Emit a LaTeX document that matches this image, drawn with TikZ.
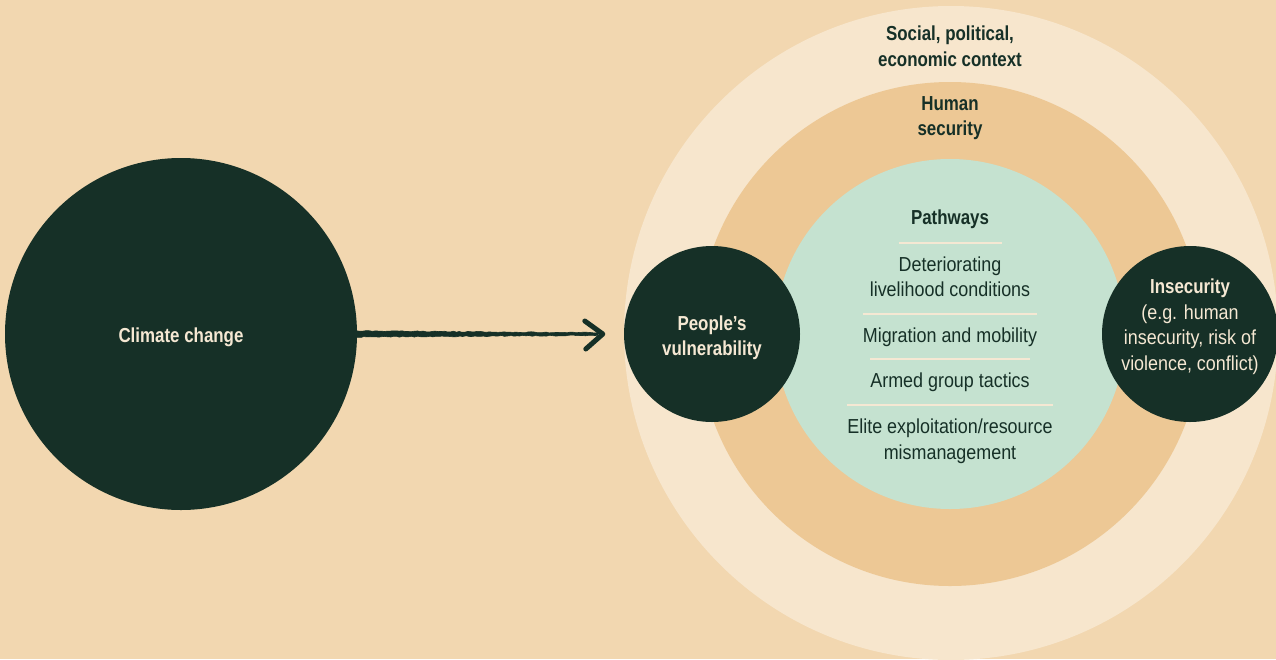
\documentclass[tikz,border=0pt]{standalone}
\usepackage{fontspec}
\setmainfont{Liberation Sans}[FakeStretch=0.885]
\newfontfamily\boldfam{Liberation Sans}[FakeStretch=0.835]
\usetikzlibrary{decorations.pathmorphing}
\definecolor{bg}{HTML}{F2D7B0}
\definecolor{outer}{HTML}{F7E6CD}
\definecolor{middle}{HTML}{EDC895}
\definecolor{inner}{HTML}{C5E2D0}
\definecolor{dark}{HTML}{163027}
\definecolor{cream}{HTML}{F5E8D3}
\begin{document}
\begin{tikzpicture}[x=1pt,y=-1pt,
  disc/.style={circle, inner sep=0pt, draw=none},
  txt/.style={anchor=base, inner sep=0pt, text=dark, font=\fontsize{20.25}{26}\selectfont},
  btxt/.style={txt, font=\boldfam\bfseries\fontsize{20.25}{26}\selectfont},
  ctxt/.style={txt, text=cream},
  cbtxt/.style={btxt, text=cream},
  sepline/.style={draw=cream, line width=2pt},
  shaft/.style={fill=dark, draw=dark, line width=0.6pt, line join=round},
  head/.style={draw=dark, line width=5pt, line cap=round, line join=round},
]
\useasboundingbox (0,0) rectangle (1276,659);
\clip (0,0) rectangle (1276,659);
\fill[bg] (0,0) rectangle (1276,659);

% rings
\node[disc, fill=outer, minimum size=654pt] (context) at (951,333) {};
\node[disc, fill=middle, minimum size=504pt] (human) at (950,334) {};
\node[disc, fill=inner, minimum size=350pt] (pathways) at (950,334) {};

% dark circles
\node[disc, fill=dark, minimum size=176pt] (vuln) at (712,334) {};
\node[disc, fill=dark, minimum size=176pt] (insec) at (1190,334) {};
\node[disc, fill=dark, minimum size=352pt] (climate) at (181,334) {};

% arrow (tapered, rough shaft)
\coordinate (tip) at ([xshift=-21pt]vuln.west);
\pgfmathsetseed{7}
\path[shaft, decorate, decoration={random steps, segment length=3pt, amplitude=0.5pt}]
  ([shift={(-3,-3)}]climate.east) -- ([shift={(-5,-1.3)}]tip)
  -- ([shift={(-5,1.3)}]tip) -- ([shift={(-3,3)}]climate.east) -- cycle;
\draw[head] ([shift={(-18,-13)}]tip) -- (tip) -- ([shift={(-17,15)}]tip);

% texts
\node[cbtxt] (cc) at (181,342) {Climate change};

\node[btxt] (ctx1) at (950,40.5) {Social, political,};
\node[btxt] (ctx2) at (950,66) {economic context};
\node[btxt] (hum1) at (950,110) {Human};
\node[btxt] (hum2) at (950,135.5) {security};

\node[btxt] (path) at (950,224) {Pathways};
\node[txt] (det1) at (950,271) {Deteriorating};
\node[txt] (det2) at (950,296.5) {livelihood conditions};
\node[txt] (mig) at (950,342) {Migration and mobility};
\node[txt] (arm) at (950,387.5) {Armed group tactics};
\node[txt] (eli1) at (950,433) {Elite exploitation/resource};
\node[txt] (eli2) at (950,459) {mismanagement};

\foreach \n in {det1,mig,arm,eli1}{
  \draw[sepline] ([yshift=28.5pt]\n.base west) -- ([yshift=28.5pt]\n.base east);
}

\node[cbtxt] (pv1) at (712,330) {People’s};
\node[cbtxt] (pv2) at (712,355.5) {vulnerability};

\node[cbtxt] (ins1) at (1190,293.5) {Insecurity};
\node[ctxt] (ins2) at (1190,319) {(e.g. human};
\node[ctxt] (ins3) at (1190,344.5) {insecurity, risk of};
\node[ctxt] (ins4) at (1190,370) {violence, conflict)};
\end{tikzpicture}
\end{document}
